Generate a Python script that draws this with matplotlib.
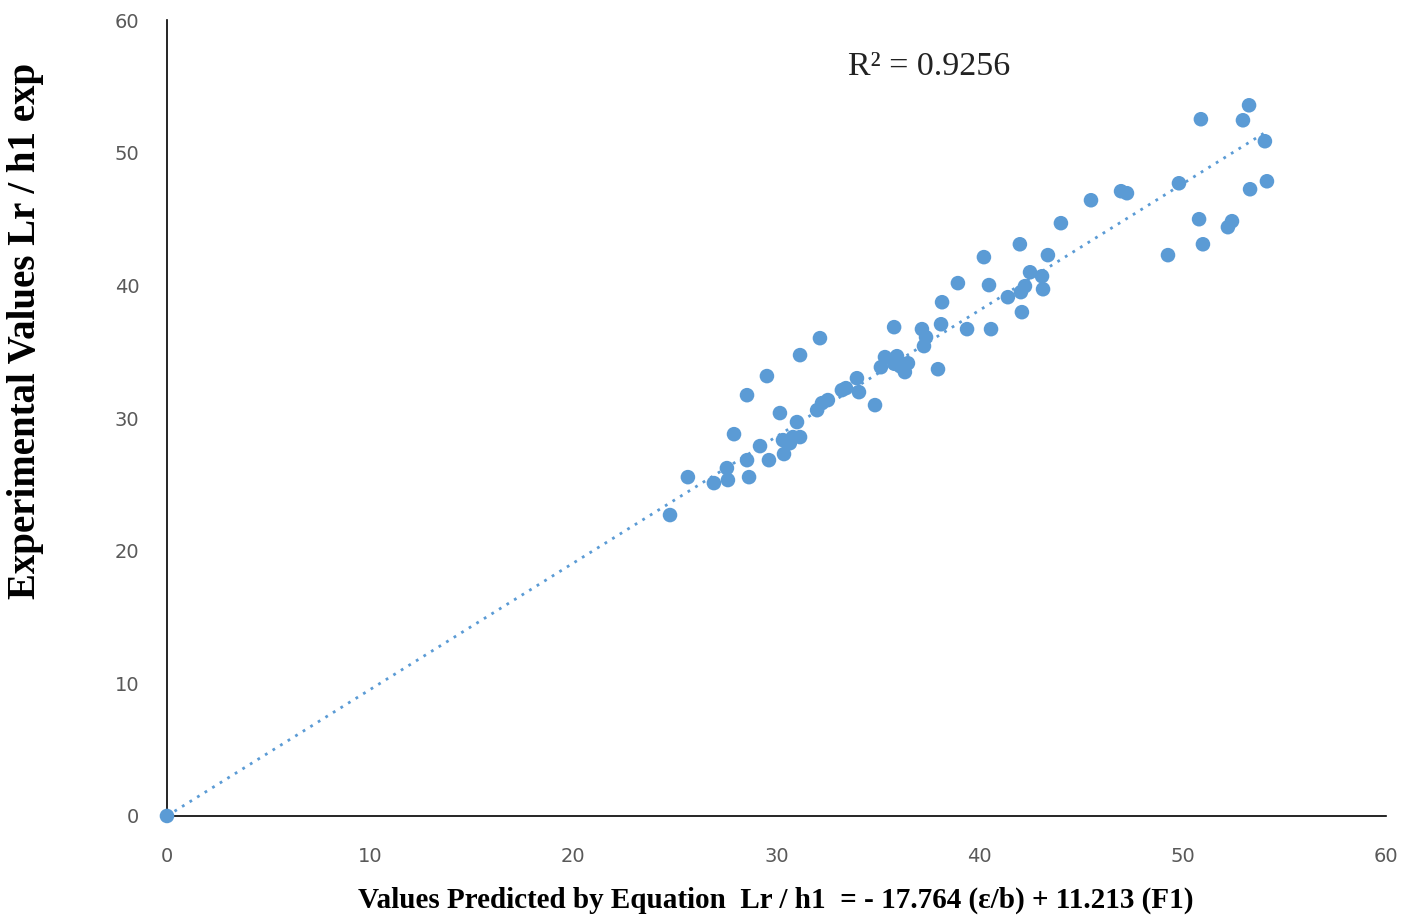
import numpy as np
import matplotlib.pyplot as plt

# predicted (x) vs experimental (y) Lr/h1 values
predicted = [0.0, 24.76, 25.64, 26.92, 27.56, 27.61, 27.91, 28.55, 28.55, 28.65,
             29.19, 29.53, 29.63, 30.17, 30.32, 30.37, 30.66, 30.81, 31.01, 31.16,
             31.16, 32.00, 32.14, 32.24, 32.53, 33.22, 33.42, 33.96, 34.06, 34.85,
             35.14, 35.34, 35.79, 35.93, 36.08, 36.32, 36.47, 37.16, 37.26, 37.36,
             37.95, 38.10, 38.15, 38.93, 39.38, 40.21, 40.46, 40.56, 41.39, 41.98,
             42.03, 42.08, 42.23, 42.48, 43.07, 43.12, 43.36, 44.00, 45.48, 46.96,
             47.25, 49.27, 49.81, 50.80, 50.89, 50.99, 52.22, 52.42, 52.96, 53.26,
             53.31, 54.04, 54.14, 35.80]
experimental = [0.0, 22.69, 25.55, 25.10, 26.23, 25.33, 28.79, 31.73, 26.83, 25.55,
                27.89, 33.17, 26.83, 30.38, 28.34, 27.29, 28.11, 28.57, 29.70, 28.57,
                34.75, 30.60, 36.03, 31.13, 31.36, 32.11, 32.26, 33.01, 31.96, 30.98,
                33.84, 34.60, 36.86, 34.67, 33.92, 33.47, 34.14, 36.71, 35.43, 36.10,
                33.69, 37.08, 38.74, 40.18, 36.71, 42.14, 40.03, 36.71, 39.12, 43.11,
                39.50, 37.99, 39.95, 41.00, 40.70, 39.72, 42.29, 44.70, 46.43, 47.11,
                46.96, 42.29, 47.71, 45.00, 52.54, 43.11, 44.40, 44.85, 52.46, 53.59,
                47.26, 50.88, 47.86, 34.10]

r2_label = "R\u00b2 = 0.9256"
x_label = "Values Predicted by Equation  Lr / h1  = - 17.764 (\u03b5/b) + 11.213 (F1)"
y_label = "Experimental Values Lr / h1 exp"

blue = "#5B9BD5"
tick_grey = "#595959"

x = np.array(predicted)
y = np.array(experimental)

# linear trend forced through the origin
slope = np.sum(x * y) / np.sum(x * x)
x_fit = np.array([0.0, x.max()])

fig = plt.figure(figsize=(14.15, 9.22), dpi=100)
ax = fig.add_axes([0.118, 0.115, 0.8615, 0.863])

ax.scatter(x, y, s=110, color=blue, edgecolors="none", zorder=3, clip_on=False)
ax.plot(x_fit, slope * x_fit, linestyle=(0, (1, 2.2)), linewidth=2.0,
        color=blue, zorder=2)

ax.set_xlim(0, 60)
ax.set_ylim(0, 60)
ax.set_xticks(range(0, 61, 10))
ax.set_yticks(range(0, 61, 10))

for side in ("top", "right"):
    ax.spines[side].set_visible(False)
for side in ("left", "bottom"):
    ax.spines[side].set_linewidth(1.2)
    ax.spines[side].set_color("black")

ax.tick_params(length=0, labelsize=14, colors=tick_grey)
ax.tick_params(axis="x", pad=22)
ax.tick_params(axis="y", pad=20)

ax.text(33.5, 56.5, r2_label, fontsize=24.5, family="Liberation Serif",
        color="#222222", va="center", ha="left")

# axis titles placed on the figure
fig.text(0.5485, 1 - 900 / 922, x_label, fontsize=21, fontweight="bold",
         family="Liberation Serif", ha="center", va="center")
fig.text(26 / 1415, 1 - 331 / 922, y_label, fontsize=28, fontweight="bold",
         family="Liberation Serif", ha="center", va="center", rotation=90)

fig.savefig("out.png", dpi=100)
